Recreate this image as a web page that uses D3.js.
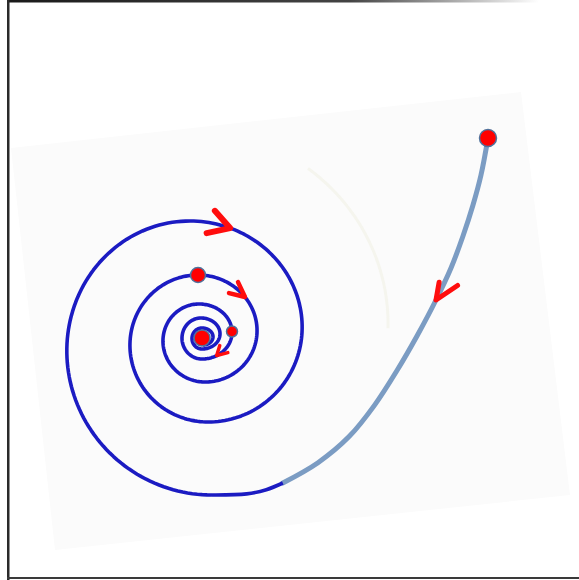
<!DOCTYPE html>
<html><head><meta charset="utf-8">
<script src="https://cdn.jsdelivr.net/npm/d3@7"></script>
<style>html,body{margin:0;padding:0;background:#fff}svg{display:block}</style>
</head><body>
<svg id="chart" width="579" height="580"></svg>
<script>
// ---- data (frame units) ----
// approach trajectory from the starting point down to the bottom of the outer turn
const approachX = [480, 473, 465, 455, 443, 428, 409, 388.7, 366.6, 341.1, 310, 274.8, 258.3, 238.7, 204];
const approachY = [137, 174, 204, 235, 267, 299, 335, 370, 404.1, 435.6, 461.7, 482, 488.7, 492.9, 494];
const junctionIndex = 11;           // where the grey approach turns into the blue spiral
// spiral turn extremes (alternating bottom / top of each half turn)
const turnX = [204, 182, 200, 190, 197, 191, 194, 193, 194, 194, 195];
const turnY = [494, 220, 421, 274, 381, 303, 358, 317, 348, 327, 344];
// horizontal extreme (left / right) reached in each half turn
const sideX = [59, 294, 122, 249, 155, 224, 174, 212, 184, 205];
// markers
const startDotIndex = [0];          // on the approach
const approachArrowIndex = [5];     // on the approach
const spiralDotPos = [3.0, 5.5];    // half-turn position along the spiral
const spiralArrowPos = [1.12, 3.30, 5.84];
const centreX = [194], centreY = [337];
// faint backdrop sheet corners
const sheetX = [3, 513, 562, 47];
const sheetY = [147, 91, 494, 549];

// ---- styles ----
const arrowStyles = [
  {arms: [[280, 18], [326, 26]], w: 5},
  {arms: [[228.6, 23], [167.7, 24]], w: 6},
  {arms: [[245, 16.5], [194, 16.5]], w: 4.5},
  {arms: [[287, 10.5], [345, 11.5]], w: 3.5}
];
const blue = '#1b1bc2', grey = '#7b9cc3', red = '#ff0000', dotEdge = '#4f729c';

const svg = d3.select('#chart');
const x = d3.scaleLinear().domain([0, 570]).range([8, 578]);
const y = d3.scaleLinear().domain([0, 577]).range([1, 578]);

// point on half turn k at fraction f (0..1)
function spiralPoint(s) {
  const k = Math.min(Math.floor(s), sideX.length - 1);
  const f = s - k;
  const left = k % 2 === 0;
  const phi0 = left ? 90 : 270;
  const phi = (phi0 + 180 * f) * Math.PI / 180;
  const x0 = turnX[k], x1 = turnX[k + 1], y0 = turnY[k], y1 = turnY[k + 1];
  const cxLin = x0 + (x1 - x0) * f;
  const cxMid = (x0 + x1) / 2;
  const rx = Math.abs(sideX[k] - cxMid);
  const cy = (y0 + y1) / 2, ry = Math.abs(y0 - y1) / 2;
  return [x(cxLin + rx * Math.cos(phi)), y(cy + ry * Math.sin(phi))];
}
const appPts = approachX.map((v, i) => [x(v), y(approachY[i])]);
const curve = d3.line().curve(d3.curveCatmullRom.alpha(0.5));
const lin = d3.line();

// backdrop sheet
svg.append('polygon')
  .attr('points', sheetX.map((v, i) => [x(v), y(sheetY[i])].join(',')).join(' '))
  .attr('fill', '#fbfbfb');

// faint ghost arc of the photographed sheet
const ghost = d3.range(-58, -2, 1).map(t => {
  const a = t * Math.PI / 180, rr = 200 - (t + 58) * 0.25;
  return [x(centreX[0]) + rr * Math.cos(a), y(centreY[0]) + rr * Math.sin(a)];
});
svg.append('path').attr('d', lin(ghost)).attr('fill', 'none')
  .attr('stroke', '#f5f5ee').attr('stroke-width', 3);

// frame
const defs = svg.append('defs');
const g = defs.append('linearGradient').attr('id', 'topfade')
  .attr('x1', '0').attr('x2', '1').attr('y1', '0').attr('y2', '0');
g.append('stop').attr('offset', '0').attr('stop-color', '#1a1a1a');
g.append('stop').attr('offset', '0.6').attr('stop-color', '#444');
g.append('stop').attr('offset', '0.93').attr('stop-color', '#fff');
svg.append('rect').attr('x', 8).attr('y', 0).attr('width', 571).attr('height', 2.5).attr('fill', 'url(#topfade)');
svg.append('rect').attr('x', 7).attr('y', 0).attr('width', 2.5).attr('height', 580).attr('fill', '#2a2a2a');
svg.append('rect').attr('x', 7).attr('y', 577).attr('width', 572).attr('height', 2).attr('fill', '#3a3a3a');

// grey approach
svg.append('path').attr('d', curve(appPts.slice(0, junctionIndex + 1))).attr('fill', 'none')
  .attr('stroke', grey).attr('stroke-width', 5).attr('stroke-linecap', 'round');
// blue end of the approach
svg.append('path').attr('d', curve(appPts.slice(junctionIndex))).attr('fill', 'none')
  .attr('stroke', blue).attr('stroke-width', 3.6);

// blue spiral
const nHalf = sideX.length;
const spiralPts = d3.range(0, nHalf, 1 / 90).map(spiralPoint).concat([spiralPoint(nHalf - 1e-6)]);
svg.append('path').attr('d', lin(spiralPts)).attr('fill', 'none')
  .attr('stroke', blue).attr('stroke-width', 3.6).attr('stroke-linejoin', 'round');

// arrows
const arrowTips = approachArrowIndex.map(i => appPts[i]).concat(spiralArrowPos.map(spiralPoint));
arrowTips.forEach((tip, i) => {
  const st = arrowStyles[i];
  const arms = st.arms.map(([ang, len]) => {
    const a = ang * Math.PI / 180;
    return [tip[0] + len * Math.cos(a), tip[1] + len * Math.sin(a)];
  });
  svg.append('path').attr('d', lin([arms[0], tip, arms[1]])).attr('fill', 'none')
    .attr('stroke', '#ff0d0d').attr('stroke-width', st.w)
    .attr('stroke-linecap', 'round').attr('stroke-linejoin', 'round');
});

// dots
const dots = [
  {p: appPts[startDotIndex[0]], r: 8.5},
  {p: spiralPoint(spiralDotPos[0]), r: 7.5},
  {p: spiralPoint(spiralDotPos[1]), r: 5.5},
  {p: [x(centreX[0]), y(centreY[0])], r: 8}
];
svg.selectAll('circle.dot').data(dots).enter().append('circle').attr('class', 'dot')
  .attr('cx', d => d.p[0]).attr('cy', d => d.p[1]).attr('r', d => d.r)
  .attr('fill', red).attr('stroke', dotEdge).attr('stroke-width', 1.5);
</script>
</body></html>
